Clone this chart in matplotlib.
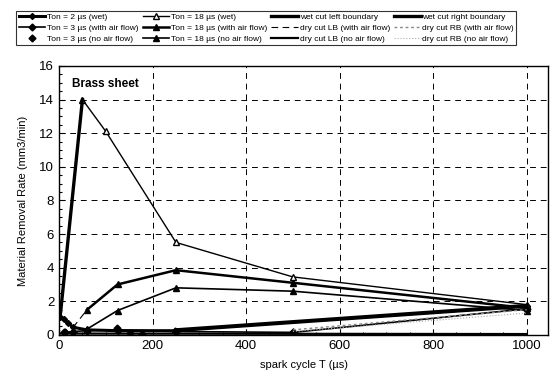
import numpy as np
import matplotlib.pyplot as plt
from matplotlib.ticker import MultipleLocator

plt.rcParams['font.family'] = ['Liberation Sans', 'DejaVu Sans']

# series
x_t2_wet = [2, 10, 20, 30, 60, 125, 250, 1000]
y_t2_wet = [1.05, 0.95, 0.7, 0.45, 0.3, 0.25, 0.25, 1.7]

x_t3_air = [10, 30, 60, 125, 250, 500, 1000]
y_t3_air = [0.15, 0.2, 0.25, 0.3, 0.2, 0.15, 1.55]

x_t3_noair = [13, 30, 60, 124, 152, 177, 248, 500]
y_t3_noair = [0.15, 0.2, 0.3, 0.4, 0.1, 0.05, 0.25, 0.2]

x_t18_wet = [50, 100, 250, 500, 1000]
y_t18_wet = [14.0, 12.1, 5.5, 3.45, 1.8]

x_t18_air = [60, 125, 250, 500, 1000]
y_t18_air = [1.5, 3.0, 3.85, 3.1, 1.6]

x_t18_noair = [60, 125, 250, 500, 1000]
y_t18_noair = [0.35, 1.45, 2.8, 2.6, 1.45]

x_wet_lb = [2, 50]
y_wet_lb = [1.0, 14.0]
x_wet_rb = [250, 1000]
y_wet_rb = [0.3, 1.75]

x_dry_lb_air = [30, 60]
y_dry_lb_air = [0.45, 1.5]
x_dry_lb_noair = [0, 1000]
y_dry_lb_noair = [0.08, 0.05]

x_dry_rb_air = [500, 1000]
y_dry_rb_air = [0.3, 1.5]
x_dry_rb_noair = [500, 1000]
y_dry_rb_noair = [0.2, 1.3]

fig = plt.figure(figsize=(5.52, 3.81), dpi=100)
ax = fig.add_axes([0.107, 0.121, 0.886, 0.706])

h = []
h += ax.plot(x_t2_wet, y_t2_wet, color='black', lw=2.2, marker='D', ms=3, label='Ton = 2 µs (wet)')
h += ax.plot(x_t3_air, y_t3_air, color='black', lw=1.2, marker='D', ms=3.5, label='Ton = 3 µs (with air flow)')
h += ax.plot(x_t3_noair, y_t3_noair, color='black', lw=0, marker='D', ms=3.5, label='Ton = 3 µs (no air flow)')
h += ax.plot(x_t18_wet, y_t18_wet, color='black', lw=1.0, marker='^', ms=5, mfc='white', label='Ton = 18 µs (wet)')
h += ax.plot(x_t18_air, y_t18_air, color='black', lw=1.8, marker='^', ms=5, label='Ton = 18 µs (with air flow)')
h += ax.plot(x_t18_noair, y_t18_noair, color='black', lw=1.2, marker='^', ms=5, label='Ton = 18 µs (no air flow)')
h += ax.plot(x_wet_lb, y_wet_lb, color='black', lw=2.4, label='wet cut left boundary')
h += ax.plot(x_dry_lb_air, y_dry_lb_air, color='black', lw=0.8, ls=(0, (6, 4)), label='dry cut LB (with air flow)')
h += ax.plot(x_dry_lb_noair, y_dry_lb_noair, color='black', lw=1.6, label='dry cut LB (no air flow)')
h += ax.plot(x_wet_rb, y_wet_rb, color='black', lw=2.4, label='wet cut right boundary')
h += ax.plot(x_dry_rb_air, y_dry_rb_air, color='#888888', lw=1.0, ls=(0, (2, 2)), label='dry cut RB (with air flow)')
h += ax.plot(x_dry_rb_noair, y_dry_rb_noair, color='#aaaaaa', lw=0.8, ls=':', label='dry cut RB (no air flow)')

ax.set_xlim(0, 1046)
ax.set_ylim(0, 16)
ax.xaxis.set_major_locator(MultipleLocator(200))
ax.xaxis.set_minor_locator(MultipleLocator(50))
ax.yaxis.set_major_locator(MultipleLocator(2))
ax.yaxis.set_minor_locator(MultipleLocator(0.5))
ax.tick_params(which='both', direction='in', labelsize=9.5, width=0.8)
ax.tick_params(which='major', length=4)
ax.tick_params(which='minor', length=2)
ax.grid(True, which='major', color='black', ls=(0, (6, 5)), lw=0.7)
for s in ax.spines.values():
    s.set_linewidth(1.0)

ax.set_xlabel('spark cycle T (µs)', fontsize=8, labelpad=6)
ax.set_ylabel('Material Removal Rate (mm3/min)', fontsize=8, labelpad=8)
ax.text(28, 14.9, 'Brass sheet', fontsize=8.5, fontweight='bold', va='center')

leg = fig.legend(handles=h, ncol=4, loc='upper left', bbox_to_anchor=(0.029, 0.972),
                 fontsize=6, frameon=True, fancybox=False, edgecolor='black',
                 handlelength=3.2, handletextpad=0.2, columnspacing=0.5,
                 labelspacing=0.35, borderpad=0.3, borderaxespad=0)
leg.get_frame().set_linewidth(0.8)

fig.savefig('out.png', dpi=100)
